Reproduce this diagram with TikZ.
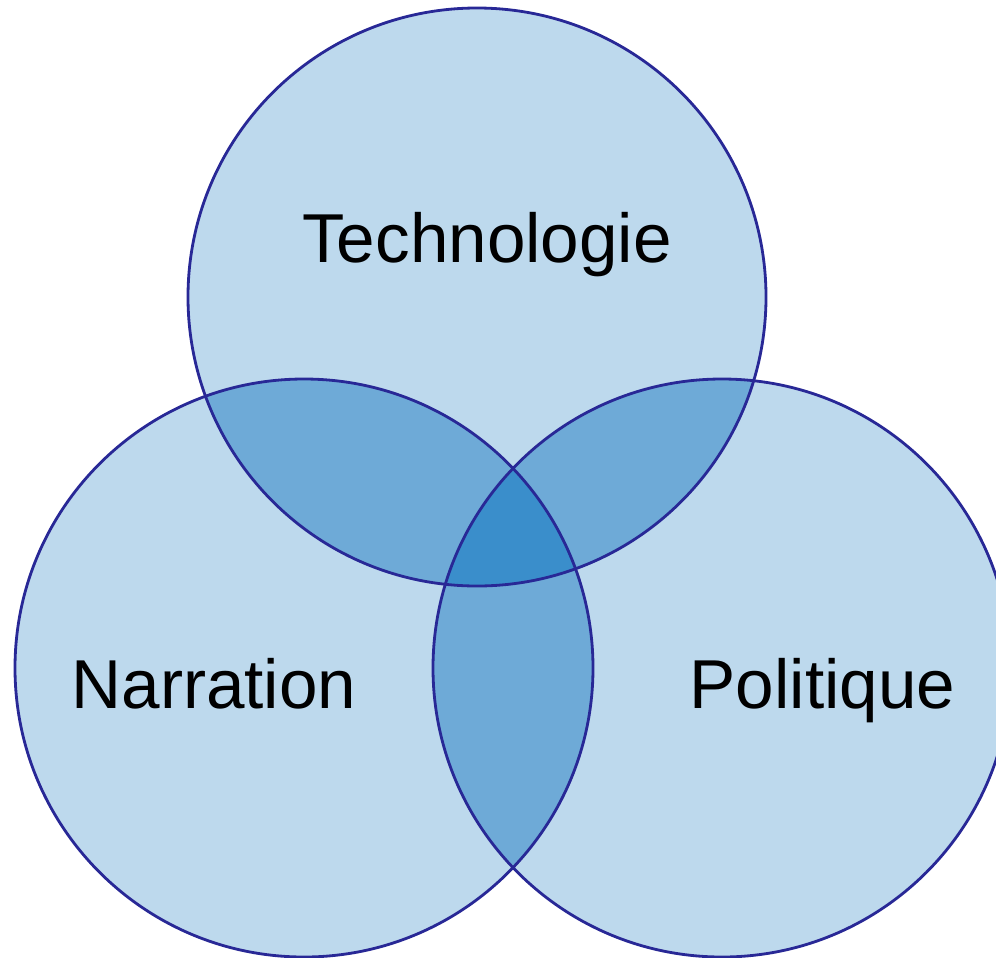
\documentclass[tikz,border=0pt]{standalone}
\usepackage{fontspec}
\setmainfont{Liberation Sans}
\definecolor{venlight}{RGB}{189,217,237}
\definecolor{venmid}{RGB}{110,170,215}
\definecolor{vendark}{RGB}{58,142,203}
\definecolor{venline}{RGB}{40,40,150}
\tikzset{
  lab/.style={anchor=base, font=\fontsize{19.7}{23}\selectfont},
  rim/.style={draw=venline, line width=0.8pt}
}
\begin{document}
\begin{tikzpicture}
      \useasboundingbox (0,0) rectangle (9.96,9.57);
      \clip (0,0) rectangle (9.96,9.57);
      \coordinate (tech) at (4.77,6.60);
      \coordinate (narr) at (3.04,2.89);
      \coordinate (poli) at (7.22,2.89);
      % light discs
      \fill[venlight] (tech) circle (2.89);
      \fill[venlight] (narr) circle (2.89);
      \fill[venlight] (poli) circle (2.89);
      % pairwise overlaps
      \begin{scope}
        \clip (tech) circle (2.89);
        \fill[venmid] (narr) circle (2.89);
        \fill[venmid] (poli) circle (2.89);
      \end{scope}
      \begin{scope}
        \clip (narr) circle (2.89);
        \fill[venmid] (poli) circle (2.89);
      \end{scope}
      % middle part
      \begin{scope}
        \clip (tech) circle (2.89);
        \clip (narr) circle (2.89);
        \fill[vendark] (poli) circle (2.89);
      \end{scope}
      \draw[rim] (tech) circle (2.89);
      \draw[rim] (narr) circle (2.89);
      \draw[rim] (poli) circle (2.89);
      \node[lab] (t) at (4.87,6.95) {Technologie};
      \node[lab] (n) at (2.14,2.49) {Narration};
      \node[lab] (p) at (8.225,2.49) {Politique};
    \end{tikzpicture}
\end{document}
